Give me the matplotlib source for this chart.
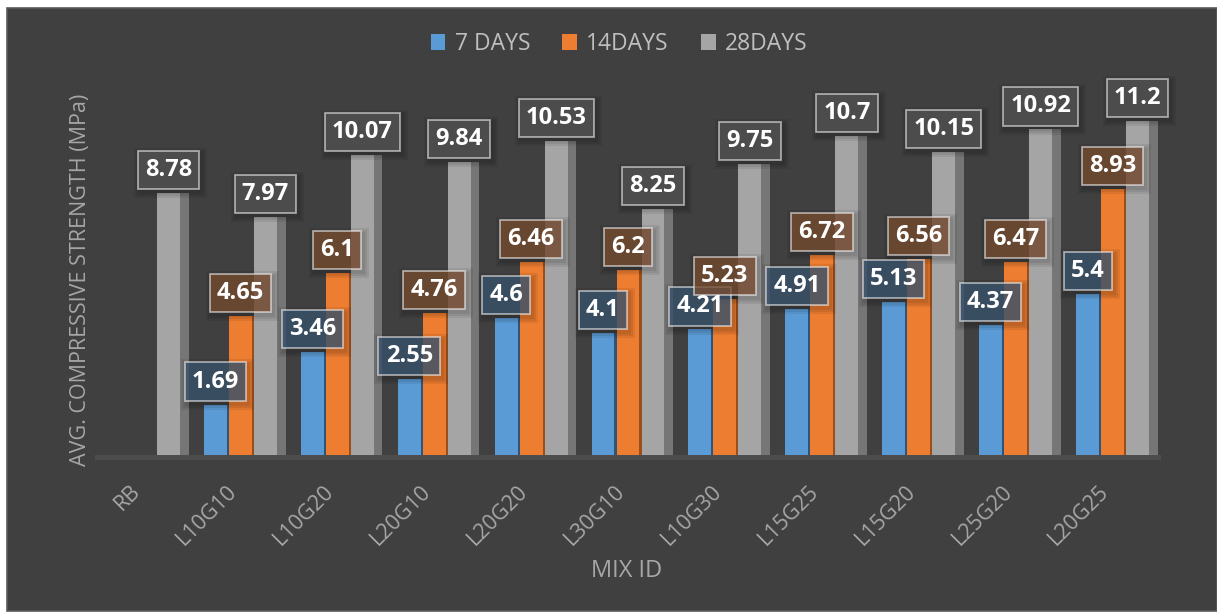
import numpy as np
import matplotlib
matplotlib.use("Agg")
import matplotlib.pyplot as plt
from matplotlib.patches import Rectangle
from matplotlib.transforms import ScaledTranslation, IdentityTransform

plt.rcParams['font.family'] = ['Open Sans', 'DejaVu Sans']

# ---------------- data ----------------
categories = ["RB", "L10G10", "L10G20", "L20G10", "L20G20", "L30G10",
              "L10G30", "L15G25", "L15G20", "L25G20", "L20G25"]
days7 = [np.nan, 1.69, 3.46, 2.55, 4.6, 4.1, 4.21, 4.91, 5.13, 4.37, 5.4]
days14 = [np.nan, 4.65, 6.1, 4.76, 6.46, 6.2, 5.23, 6.72, 6.56, 6.47, 8.93]
days28 = [8.78, 7.97, 10.07, 9.84, 10.53, 8.25, 9.75, 10.7, 10.15, 10.92, 11.2]
series_names = ["7 DAYS", "14DAYS", "28DAYS"]

# ---------------- style ----------------
W, H = 1217, 613
BG = "#404040"
colors = ["#5B9BD5", "#ED7D31", "#A5A5A5"]
side_colors = ["#2E5479", "#9A4E1B", "#767676"]
box_fills = ["#3C556F", "#784D31", "#545454"]
text_gray = "#a6a6a6"

fig = plt.figure(figsize=(W / 100, H / 100), dpi=100, facecolor="white")
fig.patches.append(Rectangle((7 / W, 2 / H), (W - 7) / W, (H - 10) / H,
                             transform=fig.transFigure, facecolor=BG,
                             edgecolor="#5a5a5a", linewidth=1.2, zorder=-10))

ax = fig.add_axes([95 / W, (H - 460) / H, 1066 / W, 400 / H])
ax.set_zorder(1)
ax.set_facecolor("none")
ax.set_xlim(-0.5, len(categories) - 0.5)
ax.set_ylim(-0.17, 13.25)
for s in ax.spines.values():
    s.set_visible(False)
ax.set_yticks([])

x = np.arange(len(categories))
step = 0.258
bw = 0.237
side_w = 0.09

# floor
ax.add_patch(Rectangle((-0.5, -0.17), len(categories), 0.17,
                       facecolor="#4d4d4d", edgecolor="none", zorder=0.5))

containers = []
all_vals = [days7, days14, days28]
for k, vals in enumerate(all_vals):
    xs = x + (k - 1) * step
    v = np.array(vals, dtype=float)
    ax.bar(xs + bw / 2, v, width=side_w, align="edge", color=side_colors[k],
           zorder=1 + 2 * k, linewidth=0)
    bc = ax.bar(xs, v, width=bw, color=colors[k], zorder=2 + 2 * k,
                linewidth=0, label=series_names[k])
    containers.append(bc)

# data labels
labels = []
for k, vals in enumerate(all_vals):
    xs = x + (k - 1) * step
    fc = matplotlib.colors.to_rgb(box_fills[k])
    for xi, val in zip(xs, vals):
        if np.isnan(val):
            continue
        t = ax.annotate(f"{val:g}", xy=(xi, val), xytext=(0, 23),
                        textcoords="offset pixels", ha="center", va="center",
                        fontsize=17, fontweight="bold", color="white",
                        zorder=20,
                        bbox=dict(boxstyle="square,pad=0.3",
                                  facecolor=(fc[0], fc[1], fc[2], 0.78),
                                  edgecolor=(1, 1, 1, 0.55), linewidth=1.3))
        labels.append(t)

# x tick labels
ax.set_xticks(x)
ax.set_xticklabels(categories, rotation=45, ha="right", va="top",
                   rotation_mode="anchor", fontsize=15.5, color=text_gray)
ax.tick_params(axis="x", length=0, pad=15)
offset = ScaledTranslation(-14 / 100, 0, fig.dpi_scale_trans)
for lab in ax.get_xticklabels():
    lab.set_transform(lab.get_transform() + offset)

# axis titles
fig.text(627 / W, 1 - 571 / H, "MIX ID", ha="center", va="center",
         fontsize=17, color=text_gray)
fig.text(81 / W, 1 - 280 / H, "AVG. COMPRESSIVE STRENGTH (MPa)",
         ha="center", va="center", rotation=90, fontsize=15.5, color=text_gray)

# legend
leg = ax.legend(handles=containers, labels=series_names, loc="center",
                bbox_to_anchor=(619 / W, 1 - 44 / H),
                bbox_transform=fig.transFigure, ncol=3, frameon=False,
                fontsize=16.5, labelcolor="#bfbfbf", handlelength=0.65,
                handleheight=0.65, handletextpad=0.4, columnspacing=1.4)

# soft shadows behind the label boxes
fig.canvas.draw()
renderer = fig.canvas.get_renderer()
for t in labels:
    bb = t.get_bbox_patch().get_window_extent(renderer)
    for grow in (2, 4, 6):
        ax.add_patch(Rectangle((bb.x0 + 2 - grow, bb.y0 - 3 - grow),
                               bb.width + 2 * grow, bb.height + 2 * grow,
                               transform=IdentityTransform(), clip_on=False,
                               facecolor=(0, 0, 0, 0.07), edgecolor="none",
                               zorder=19))

fig.savefig("out.png", dpi=100, facecolor=fig.get_facecolor())
